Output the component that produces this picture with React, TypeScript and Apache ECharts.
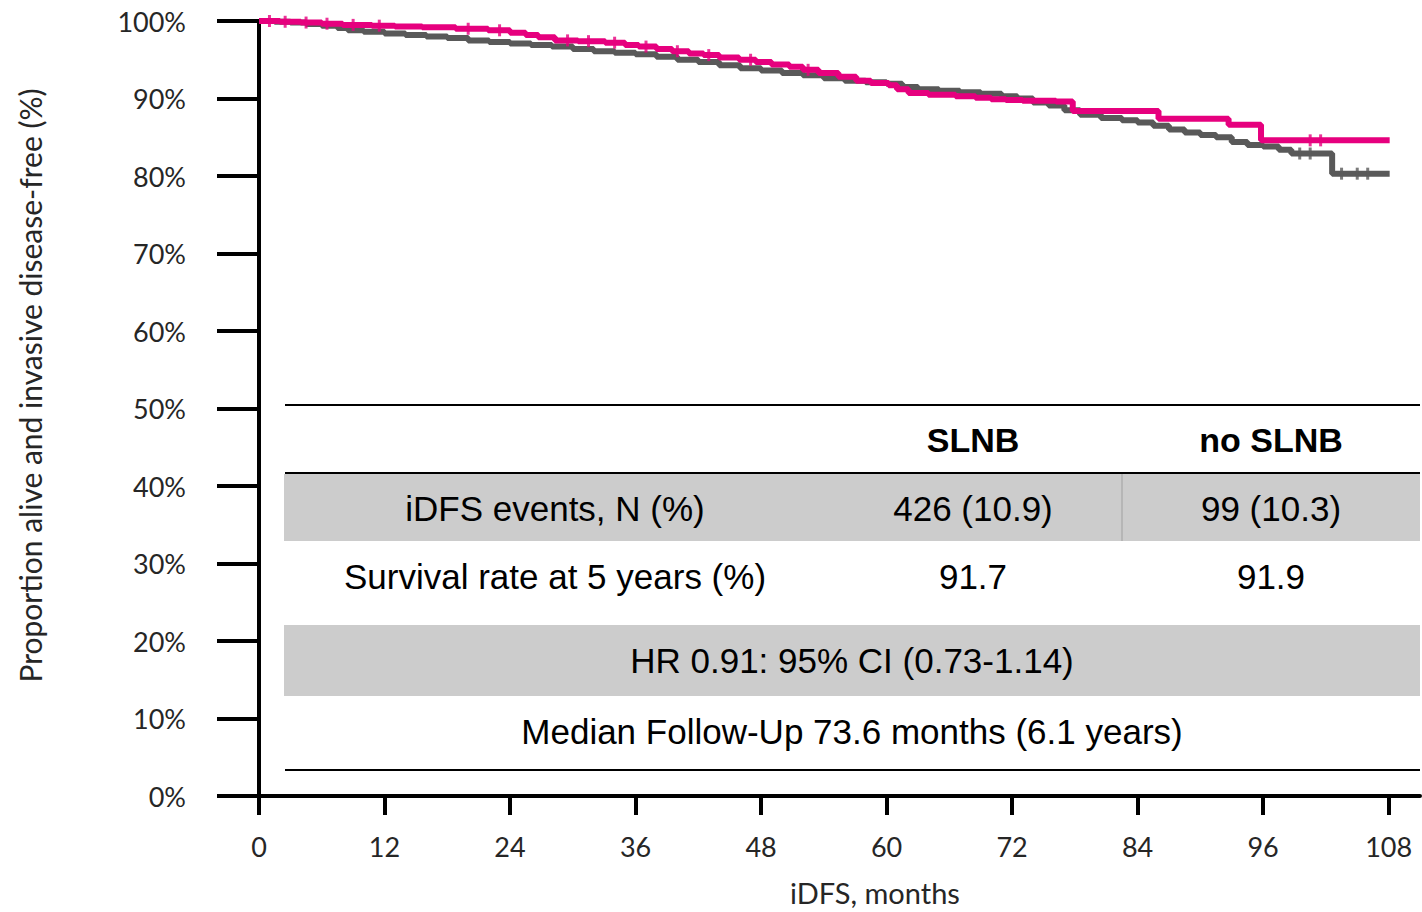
import React, { useEffect, useRef } from "react";
import * as echarts from "echarts";

// ---- axis ticks ----
const xTickValues = [0, 12, 24, 36, 48, 60, 72, 84, 96, 108];
const yTickValues = [0, 10, 20, 30, 40, 50, 60, 70, 80, 90, 100];

// ---- Kaplan-Meier curves (month, % alive and invasive disease-free) ----
const pinkCurve: [number, number][] = [
  [0, 100], [2, 99.9], [4, 99.8], [6, 99.65], [8, 99.5], [10.8, 99.4], [13, 99.3],
  [15.6, 99.2], [18.8, 99.0], [21.9, 98.8], [24, 98.5], [25.5, 98.2], [26.7, 97.9],
  [28.3, 97.5], [30.5, 97.4], [33.1, 97.2], [35, 96.9], [36.3, 96.7], [38, 96.4],
  [39.5, 96.1], [41.1, 95.8], [42.5, 95.6], [44, 95.3], [45.9, 95.0], [47.5, 94.7],
  [49, 94.4], [50.7, 94.1], [52, 93.7], [53.5, 93.3], [55.4, 92.8], [57.1, 92.3],
  [58.5, 92.0], [60.2, 91.7], [61, 91.2], [62.1, 90.7], [64, 90.5], [66.6, 90.3],
  [68.5, 90.1], [70, 89.9], [71.4, 89.8], [73, 89.7], [76.2, 89.6], [77.8, 88.4],
  [86, 87.4], [92.7, 86.6], [95.8, 84.6], [108.1, 84.6],
];

const grayCurve: [number, number][] = [
  [0, 100], [1.5, 99.9], [3, 99.8], [4.5, 99.6], [6, 99.4], [7.5, 99.1], [8.5, 98.8],
  [10, 98.6], [12, 98.4], [14, 98.2], [16, 98.0], [18, 97.8], [20, 97.5], [22, 97.3],
  [24, 97.1], [26, 96.9], [28, 96.7], [30, 96.4], [32, 96.1], [34, 95.9], [36, 95.7],
  [38, 95.4], [40, 95.0], [42, 94.7], [44, 94.3], [46, 93.9], [48, 93.6], [50, 93.3],
  [52, 93.0], [54, 92.6], [56, 92.3], [58, 92.1], [60, 91.9], [61.5, 91.5], [63, 91.2],
  [65, 91.0], [67, 90.8], [69, 90.6], [71, 90.3], [72.5, 90.0], [74, 89.5], [75.5, 89.1],
  [77, 88.5], [78.5, 87.9], [80.5, 87.5], [82.5, 87.2], [84, 86.9], [85.5, 86.5],
  [87, 86.0], [88.5, 85.6], [90, 85.3], [91.5, 85.0], [93, 84.4], [94.5, 84.0],
  [96, 83.8], [97.5, 83.4], [98.7, 82.9], [102.6, 80.3], [108.1, 80.3],
];

// censored observations (months)
const pinkCensored = [1, 2.5, 4.5, 6.5, 9, 11.5, 20, 23, 29.5, 31.5, 34, 37, 40, 43, 47, 52.5, 100.5, 101.5];
const grayCensored = [99.5, 100.5, 103.5, 105, 106];

// ---- table texts ----
const tableColumns = ["SLNB", "no SLNB"];
const eventsRow = ["iDFS events, N (%)", "426 (10.9)", "99 (10.3)"];
const survivalRow = ["Survival rate at 5 years (%)", "91.7", "91.9"];
const hrText = "HR 0.91: 95% CI (0.73-1.14)";
const followUpText = "Median Follow-Up 73.6 months (6.1 years)";

const PINK = "#E6007E";
const GRAY = "#595959";

function stepValue(curve: [number, number][], t: number): number {
  let v = curve[0][1];
  for (const [m, s] of curve) {
    if (m <= t) v = s;
    else break;
  }
  return v;
}

export default function App() {
  const ref = useRef<HTMLDivElement>(null);

  useEffect(() => {
    if (!ref.current) return;
    const chart = echarts.init(ref.current, undefined, { renderer: "svg" });

    const tableFont = '"Liberation Sans", Arial, sans-serif';
    const colX = [555, 973, 1271];
    const mkText = (text: string, x: number, y: number, bold = false) => ({
      type: "text",
      x,
      y,
      silent: true,
      style: {
        text,
        fill: "#000",
        font: `${bold ? "bold 34px" : "35px"} ${tableFont}`,
        textAlign: "center",
        textVerticalAlign: "middle",
      },
    });

    const graphics: any[] = [
      { type: "rect", shape: { x: 284, y: 474, width: 1136, height: 67 }, style: { fill: "#cccccc" }, silent: true },
      { type: "rect", shape: { x: 284, y: 625, width: 1136, height: 71 }, style: { fill: "#cccccc" }, silent: true },
      { type: "line", shape: { x1: 1122, y1: 474, x2: 1122, y2: 541 }, style: { stroke: "#a0a0a0", lineWidth: 1 }, silent: true },
      { type: "line", shape: { x1: 285, y1: 405, x2: 1420, y2: 405 }, style: { stroke: "#000", lineWidth: 2 }, silent: true },
      { type: "line", shape: { x1: 285, y1: 473, x2: 1420, y2: 473 }, style: { stroke: "#000", lineWidth: 2 }, silent: true },
      { type: "line", shape: { x1: 285, y1: 770, x2: 1420, y2: 770 }, style: { stroke: "#000", lineWidth: 2 }, silent: true },
      mkText(tableColumns[0], colX[1], 440, true),
      mkText(tableColumns[1], colX[2], 440, true),
      mkText(eventsRow[0], colX[0], 508),
      mkText(eventsRow[1], colX[1], 508),
      mkText(eventsRow[2], colX[2], 508),
      mkText(survivalRow[0], colX[0], 576),
      mkText(survivalRow[1], colX[1], 576),
      mkText(survivalRow[2], colX[2], 576),
      mkText(hrText, 852, 660),
      mkText(followUpText, 852, 731),
    ];

    const axisFont = "Lato, sans-serif";

    chart.setOption({
      animation: false,
      backgroundColor: "#fff",
      grid: { left: 259, right: 2, top: 21, bottom: 116, containLabel: false, outerBoundsMode: "none" },
      xAxis: {
        type: "value",
        min: 0,
        max: 111,
        interval: 12,
        name: "iDFS, months",
        nameLocation: "middle",
        nameGap: 82,
        nameTextStyle: { fontFamily: axisFont, fontSize: 29, color: "#262626", padding: [0, 0, 0, 71] },
        splitLine: { show: false },
        axisLine: { show: true, onZero: false, lineStyle: { color: "#000", width: 4 } },
        axisTick: { show: true, length: 19, lineStyle: { color: "#000", width: 4 }, customValues: xTickValues },
        axisLabel: {
          fontFamily: axisFont,
          fontSize: 27,
          color: "#262626",
          margin: 37,
          customValues: xTickValues,
        },
      },
      yAxis: {
        type: "value",
        min: 0,
        max: 100,
        interval: 10,
        name: "Proportion alive and invasive disease-free (%)",
        nameLocation: "middle",
        nameGap: 214,
        nameTextStyle: { fontFamily: axisFont, fontSize: 30, color: "#262626", padding: [0, 0, 0, 46] },
        splitLine: { show: false },
        axisLine: { show: true, lineStyle: { color: "#000", width: 4 } },
        axisTick: { show: true, length: 42, lineStyle: { color: "#000", width: 4 }, customValues: yTickValues },
        axisLabel: {
          fontFamily: axisFont,
          fontSize: 27,
          color: "#262626",
          margin: 73,
          formatter: "{value}%",
          customValues: yTickValues,
        },
      },
      graphic: graphics,
      series: [
        {
          type: "line",
          name: "gray",
          step: "end",
          data: grayCurve,
          showSymbol: false,
          lineStyle: { color: GRAY, width: 6 },
          itemStyle: { color: GRAY },
          z: 2,
        },
        {
          type: "scatter",
          name: "gray censored",
          data: grayCensored.map((m) => [m, stepValue(grayCurve, m)]),
          symbol: "rect",
          symbolSize: [3, 12],
          itemStyle: { color: GRAY },
          z: 2,
        },
        {
          type: "line",
          name: "pink",
          step: "end",
          data: pinkCurve,
          showSymbol: false,
          lineStyle: { color: PINK, width: 6 },
          itemStyle: { color: PINK },
          z: 3,
        },
        {
          type: "scatter",
          name: "pink censored",
          data: pinkCensored.map((m) => [m, stepValue(pinkCurve, m)]),
          symbol: "rect",
          symbolSize: [3, 12],
          itemStyle: { color: PINK },
          z: 3,
        },
      ],
    });

    return () => chart.dispose();
  }, []);

  return (
    <div
      ref={ref}
      style={{ position: "fixed", left: 0, top: 0, width: 1422, height: 912, background: "#fff" }}
    />
  );
}
